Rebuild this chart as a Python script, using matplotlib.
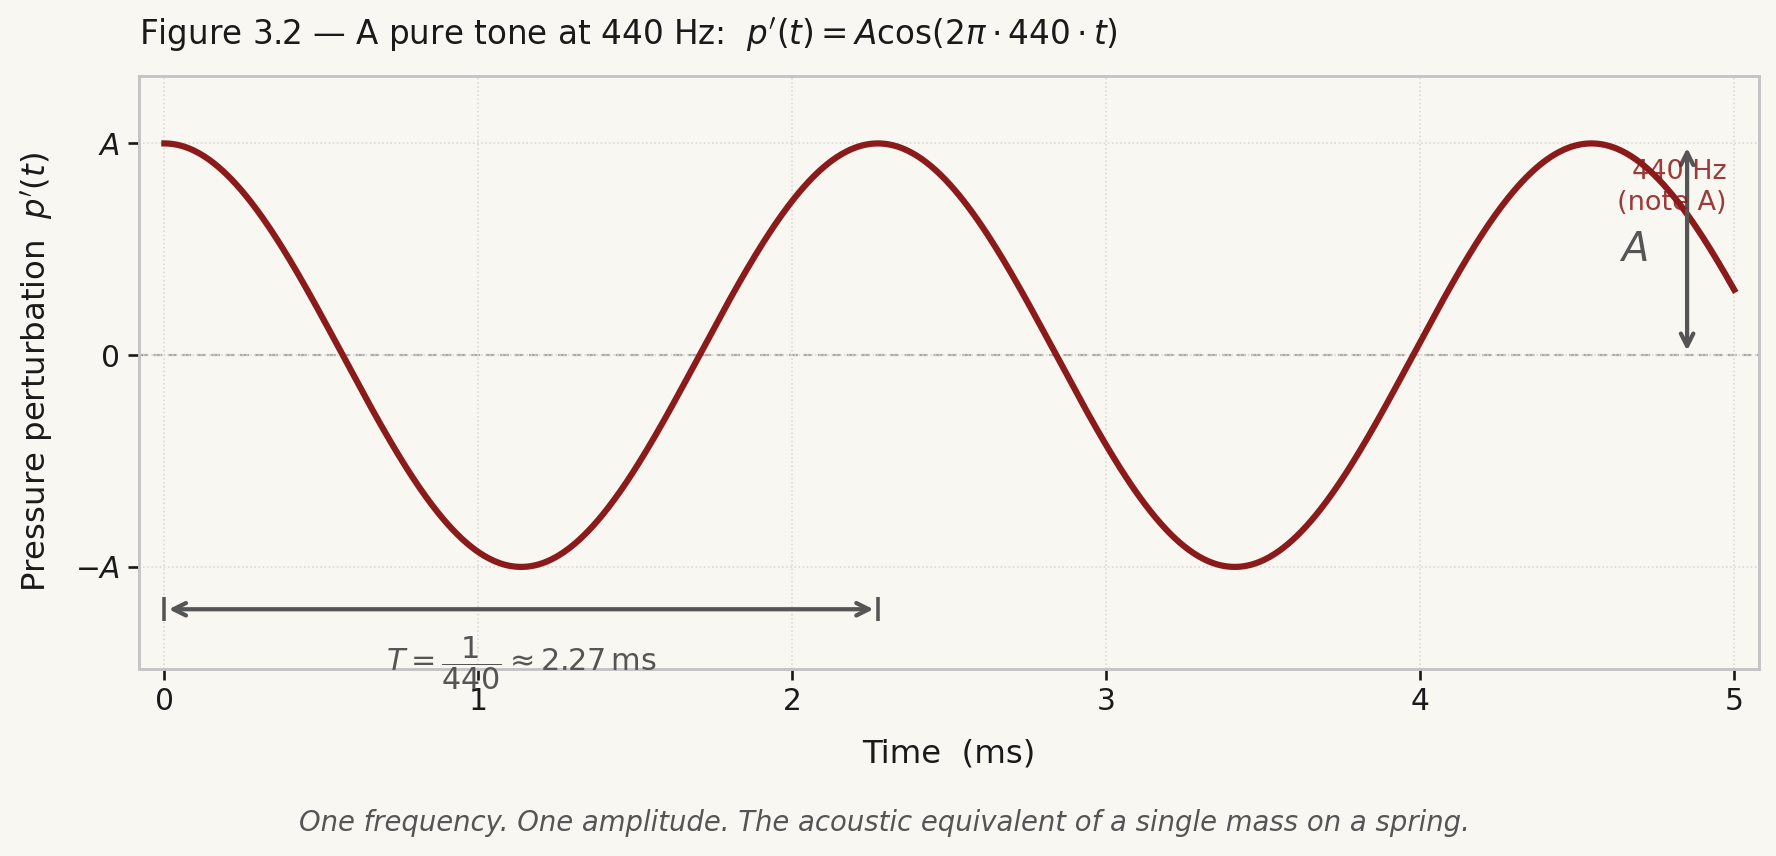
import numpy as np
import matplotlib
matplotlib.use("Agg")
import matplotlib.pyplot as plt

# ---- data ----
freq_hz = 440.0
amplitude = 1.0
t_ms = np.linspace(0, 5, 1000)
pressure = amplitude * np.cos(2 * np.pi * freq_hz * t_ms / 1000.0)
period_ms = 1000.0 / freq_hz
xticks = [0, 1, 2, 3, 4, 5]
yticks = [-1, 0, 1]
ytick_labels = [r"$-A$", "0", r"$A$"]

BG = "#f9f7f1"
RED = "#8b1a1a"
GRAY = "#555555"

plt.rcParams['font.family'] = ['DejaVu Sans']
plt.rcParams['mathtext.fontset'] = 'dejavusans'

fig = plt.figure(figsize=(11.1, 5.35), dpi=160, facecolor=BG)
ax = fig.add_axes([0.0784, 0.219, 0.9122, 0.6926])
ax.set_facecolor(BG)

ax.plot(t_ms, pressure, color=RED, lw=2.8, zorder=3)
ax.axhline(0, color="#aaaaaa", lw=1.0, ls=(0, (4, 2.5)), zorder=1)

ax.set_xlim(-0.08, 5.08)
ax.set_ylim(-1.48, 1.32)
ax.set_xticks(xticks)
ax.set_yticks(yticks)
ax.set_yticklabels(ytick_labels)
ax.tick_params(labelsize=13.4, colors="#1a1a1a", length=5, width=1.2)
ax.grid(True, ls=":", color="#d6d6d6", lw=0.7)
for s in ax.spines.values():
    s.set_color("#c4c4c4")
    s.set_linewidth(1.3)

ax.set_xlabel("Time  (ms)", fontsize=14.6, color="#1a1a1a", labelpad=10)
ax.set_ylabel(r"Pressure perturbation  $p'(t)$", fontsize=14.6, color="#1a1a1a", labelpad=9)
ax.set_title(r"Figure 3.2 — A pure tone at 440 Hz:  $p'(t) = A\cos(2\pi \cdot 440 \cdot t)$",
             loc="left", fontsize=14.7, color="#1a1a1a", pad=14)

# period arrow
ax.annotate("", xy=(period_ms, -1.2), xytext=(0, -1.2),
            arrowprops=dict(arrowstyle="<->", color=GRAY, lw=1.9, mutation_scale=14))
ax.plot([0, period_ms], [-1.2, -1.2], ls="none", marker="|", ms=11, mew=1.6, color=GRAY)
ax.text(period_ms / 2, -1.455, r"$T = \dfrac{1}{440} \approx 2.27\,\mathrm{ms}$",
        ha="center", va="center", fontsize=13.6, color=GRAY)

# amplitude arrow
ax.annotate("", xy=(4.85, 1.0), xytext=(4.85, 0.0),
            arrowprops=dict(arrowstyle="<->", color=GRAY, lw=1.9, mutation_scale=14))
ax.text(4.68, 0.495, r"$A$", ha="center", va="center", fontsize=18, color=GRAY)
ax.text(4.975, 0.79, "440 Hz\n(note A)", ha="right", va="center", fontsize=12.2,
        color=RED, alpha=0.85, linespacing=1.25)

fig.text(0.498, 0.038, "One frequency. One amplitude. The acoustic equivalent of a single mass on a spring.",
         ha="center", va="center", fontsize=12.4, style="italic", color=GRAY)

fig.savefig("out.png", dpi=160, facecolor=BG)
